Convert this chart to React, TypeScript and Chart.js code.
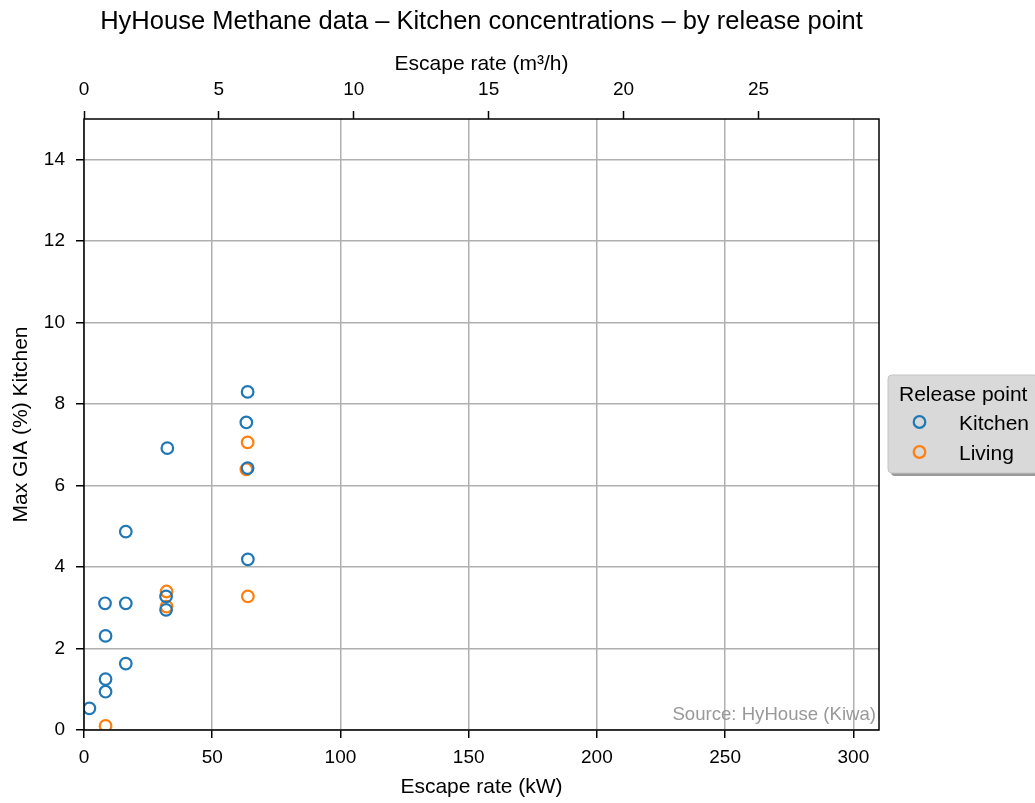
import React, { useEffect, useRef } from "react";
import { Chart, registerables } from "chart.js";

Chart.register(...registerables);

// Escape rate (kW) and maximum gas-in-air concentration (%) in the kitchen
const kitchenRate = [2.1, 8.4, 8.4, 8.4, 8.2, 16.3, 16.3, 16.3, 32.0, 32.0, 32.5, 63.9, 63.8, 63.3, 63.8];
const kitchenGia = [0.53, 0.94, 1.25, 2.31, 3.11, 3.11, 1.63, 4.87, 3.28, 2.95, 6.92, 4.19, 8.3, 7.55, 6.43];
const livingRate = [8.4, 32.2, 32.2, 63.9, 63.8, 63.3];
const livingGia = [0.1, 3.4, 3.03, 3.28, 7.06, 6.4];

const seriesNames = ["Kitchen", "Living"];
const seriesColors = ["#1f77b4", "#ff7f0e"];

// Tick values for each axis
const kwTicks = [0, 50, 100, 150, 200, 250, 300];
const m3hTicks = [0, 5, 10, 15, 20, 25];
const giaTicks = [0, 2, 4, 6, 8, 10, 12, 14];

// kW per m³/h of methane
const KW_PER_M3H = 10.52;
const X_MAX_KW = 310;
const Y_MAX = 15;

const FONT = "'Liberation Sans', Arial, Helvetica, sans-serif";

const toPoints = (xs: number[], ys: number[]) => xs.map((x, i) => ({ x, y: ys[i] }));

const fixedTicks = (values: number[]) => (scale: any) => {
  scale.ticks = values.map((value) => ({ value }));
};

const decorations = {
  id: "decorations",
  afterDatasetsDraw(chart: any) {
    const { ctx, chartArea } = chart;
    const { left, right, top, bottom } = chartArea;
    ctx.save();

    // axes frame
    ctx.strokeStyle = "#000";
    ctx.lineWidth = 1.5;
    ctx.strokeRect(left, top, right - left, bottom - top);

    // source note
    ctx.fillStyle = "#999999";
    ctx.font = `18.6px ${FONT}`;
    ctx.textAlign = "right";
    ctx.textBaseline = "alphabetic";
    ctx.fillText("Source: HyHouse (Kiwa)", right - 3, 720);

    // main title
    ctx.fillStyle = "#000";
    ctx.font = `25.5px ${FONT}`;
    ctx.textAlign = "center";
    ctx.fillText("HyHouse Methane data \u2013 Kitchen concentrations \u2013 by release point", (left + right) / 2, 29);

    // legend
    const bx = 888, by = 375, bw = 150, bh = 98, r = 4;
    const rr = (x: number, y: number) => {
      ctx.beginPath();
      ctx.moveTo(x + r, y);
      ctx.lineTo(x + bw - r, y);
      ctx.arcTo(x + bw, y, x + bw, y + r, r);
      ctx.lineTo(x + bw, y + bh - r);
      ctx.arcTo(x + bw, y + bh, x + bw - r, y + bh, r);
      ctx.lineTo(x + r, y + bh);
      ctx.arcTo(x, y + bh, x, y + bh - r, r);
      ctx.lineTo(x, y + r);
      ctx.arcTo(x, y, x + r, y, r);
      ctx.closePath();
    };
    rr(bx + 3, by + 3);
    ctx.fillStyle = "#9a9a9a";
    ctx.fill();
    rr(bx, by);
    ctx.fillStyle = "#d9d9d9";
    ctx.fill();
    ctx.strokeStyle = "#c4c4c4";
    ctx.lineWidth = 1;
    ctx.stroke();

    ctx.textAlign = "left";
    ctx.fillStyle = "#000";
    ctx.font = `21px ${FONT}`;
    ctx.fillText("Release point", 899, 401);
    const rows = [430, 460];
    seriesNames.forEach((name, i) => {
      ctx.beginPath();
      ctx.arc(919.5, rows[i] - 8, 5.8, 0, Math.PI * 2);
      ctx.strokeStyle = seriesColors[i];
      ctx.lineWidth = 2.2;
      ctx.stroke();
      ctx.fillStyle = "#000";
      ctx.fillText(name, 959, rows[i]);
    });

    ctx.restore();
  },
};

export default function App() {
  const canvasRef = useRef<HTMLCanvasElement | null>(null);

  useEffect(() => {
    if (!canvasRef.current) return;
    Chart.defaults.font.family = FONT;
    Chart.defaults.color = "#000";

    const tickFont = { size: 19, family: FONT };
    const titleFont = { size: 21, family: FONT };

    const chart = new Chart(canvasRef.current, {
      type: "scatter",
      data: {
        datasets: [
          {
            label: seriesNames[0],
            data: toPoints(kitchenRate, kitchenGia),
            borderColor: seriesColors[0],
            backgroundColor: "rgba(0,0,0,0)",
            pointRadius: 5.8,
            pointBorderWidth: 2.2,
            xAxisID: "x",
            yAxisID: "y",
            clip: 0,
          },
          {
            label: seriesNames[1],
            data: toPoints(livingRate, livingGia),
            borderColor: seriesColors[1],
            backgroundColor: "rgba(0,0,0,0)",
            pointRadius: 5.8,
            pointBorderWidth: 2.2,
            xAxisID: "x",
            yAxisID: "y",
            clip: 0,
          },
        ],
      },
      options: {
        responsive: false,
        animation: false,
        devicePixelRatio: 1,
        layout: { padding: { left: 0, top: 0, right: 156, bottom: 0 } },
        plugins: {
          legend: { display: false },
          title: { display: false },
          tooltip: { enabled: false },
        },
        scales: {
          x: {
            type: "linear",
            position: "bottom",
            min: 0,
            max: X_MAX_KW,
            afterFit: (s: any) => {
              s.height = 73;
            },
            afterBuildTicks: fixedTicks(kwTicks),
            ticks: { font: tickFont, padding: 8, color: "#000", maxRotation: 0, autoSkip: false },
            grid: {
              color: "#b0b0b0",
              lineWidth: 1.5,
              tickColor: "#000",
              tickLength: 8,
              tickWidth: 1.5,
            },
            border: { display: false },
            title: {
              display: true,
              text: "Escape rate (kW)",
              font: titleFont,
              color: "#000",
              padding: { top: 0, bottom: 3 },
            },
          },
          x2: {
            type: "linear",
            position: "top",
            min: 0,
            max: X_MAX_KW / KW_PER_M3H,
            afterFit: (s: any) => {
              s.height = 119;
            },
            afterBuildTicks: fixedTicks(m3hTicks),
            ticks: { font: tickFont, padding: 10, color: "#000", maxRotation: 0, autoSkip: false },
            grid: {
              drawOnChartArea: false,
              tickColor: "#000",
              tickLength: 8,
              tickWidth: 1.5,
            },
            border: { display: false },
            title: {
              display: true,
              text: "Escape rate (m\u00b3/h)",
              font: titleFont,
              color: "#000",
              padding: { top: 52, bottom: 0 },
            },
          },
          y: {
            type: "linear",
            position: "left",
            min: 0,
            max: Y_MAX,
            afterFit: (s: any) => {
              s.width = 84;
            },
            afterBuildTicks: fixedTicks(giaTicks),
            ticks: { font: tickFont, padding: 11, color: "#000", autoSkip: false },
            grid: {
              color: "#b0b0b0",
              lineWidth: 1.5,
              tickColor: "#000",
              tickLength: 8,
              tickWidth: 1.5,
            },
            border: { display: false },
            title: {
              display: true,
              text: "Max GIA (%) Kitchen",
              font: titleFont,
              color: "#000",
              padding: { top: 8.5, bottom: 0 },
            },
          },
        },
      },
      plugins: [decorations],
    } as any);

    return () => chart.destroy();
  }, []);

  return (
    <div style={{ position: "fixed", left: 0, top: 0, width: 1035, height: 803, background: "#fff" }}>
      <canvas ref={canvasRef} width={1035} height={803} style={{ display: "block", width: 1035, height: 803 }} />
    </div>
  );
}
